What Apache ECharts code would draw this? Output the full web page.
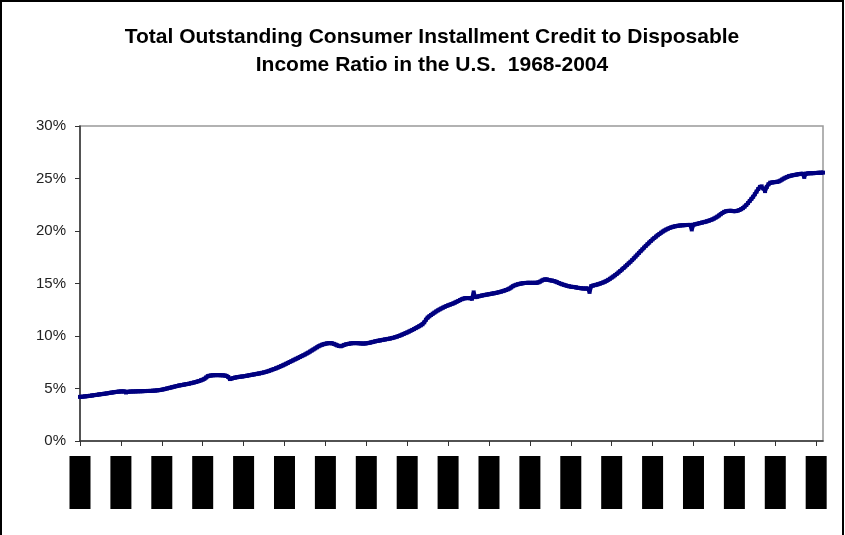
<!DOCTYPE html>
<html>
<head>
<meta charset="utf-8">
<script src="https://cdn.jsdelivr.net/npm/echarts@6/dist/echarts.min.js"></script>
<style>
html,body{margin:0;padding:0;background:#fff;}
#chart{width:845px;height:535px;}
</style>
</head>
<body>
<div id="chart"></div>
<script>
// Title
var titleText = 'Total Outstanding Consumer Installment Credit to Disposable\nIncome Ratio in the U.S.  1968-2004';

// Y axis tick values (percent)
var yTicks = [0, 5, 10, 15, 20, 25, 30];

// Monthly ratio values (%), by decade
var ratio1968_1977 = [
  4.20,4.21,4.23,4.25,4.27,4.29,4.31,4.33,4.36,4.38,4.40,4.43,
  4.45,4.47,4.49,4.52,4.54,4.57,4.60,4.62,4.65,4.67,4.69,4.71,
  4.72,4.73,4.72,4.62,4.68,4.70,4.71,4.72,4.72,4.73,4.73,4.74,
  4.74,4.75,4.75,4.76,4.77,4.77,4.78,4.79,4.80,4.82,4.84,4.86,
  4.89,4.92,4.96,5.00,5.04,5.08,5.12,5.16,5.20,5.24,5.28,5.31,
  5.34,5.37,5.40,5.43,5.46,5.50,5.54,5.58,5.62,5.67,5.72,5.78,
  5.84,5.92,6.05,6.18,6.22,6.24,6.26,6.27,6.28,6.28,6.27,6.26,
  6.25,6.24,6.20,6.10,5.90,5.95,6.00,6.04,6.07,6.10,6.12,6.14,
  6.16,6.19,6.22,6.25,6.28,6.31,6.34,6.37,6.40,6.43,6.46,6.50,
  6.54,6.58,6.63,6.68,6.74,6.80,6.86,6.92,6.99,7.06,7.13,7.20
];
var ratio1978_1987 = [
  7.28,7.36,7.44,7.52,7.60,7.68,7.76,7.84,7.92,8.00,8.08,8.16,
  8.24,8.33,8.42,8.52,8.62,8.72,8.82,8.92,9.02,9.10,9.17,9.22,
  9.26,9.30,9.32,9.33,9.30,9.25,9.18,9.10,9.05,9.02,9.08,9.15,
  9.20,9.24,9.27,9.30,9.32,9.33,9.33,9.32,9.30,9.29,9.28,9.28,
  9.30,9.33,9.36,9.40,9.44,9.48,9.52,9.55,9.58,9.61,9.64,9.67,
  9.70,9.73,9.76,9.80,9.84,9.89,9.94,10.00,10.06,10.13,10.20,10.27,
  10.34,10.42,10.50,10.58,10.66,10.75,10.84,10.93,11.02,11.12,11.30,11.55,
  11.75,11.88,12.00,12.12,12.23,12.34,12.44,12.53,12.62,12.70,12.78,12.86,
  12.92,12.98,13.04,13.10,13.18,13.26,13.34,13.42,13.50,13.56,13.60,13.62,
  13.62,13.60,13.55,14.15,13.70,13.74,13.78,13.82,13.86,13.89,13.92,13.95
];
var ratio1988_1997 = [
  13.98,14.01,14.04,14.07,14.10,14.14,14.18,14.22,14.27,14.32,14.38,14.44,
  14.52,14.62,14.74,14.82,14.88,14.93,14.97,15.00,15.03,15.05,15.06,15.06,
  15.06,15.06,15.06,15.06,15.07,15.10,15.18,15.28,15.36,15.40,15.38,15.34,
  15.30,15.28,15.24,15.18,15.12,15.05,14.98,14.92,14.87,14.82,14.77,14.73,
  14.70,14.68,14.66,14.63,14.60,14.57,14.55,14.53,14.52,14.52,14.52,14.20,
  14.75,14.80,14.84,14.88,14.93,14.98,15.04,15.10,15.17,15.25,15.35,15.45,
  15.56,15.67,15.79,15.92,16.05,16.19,16.33,16.47,16.62,16.77,16.92,17.07,
  17.23,17.40,17.57,17.74,17.91,18.08,18.25,18.42,18.58,18.74,18.90,19.05,
  19.20,19.34,19.47,19.60,19.72,19.84,19.95,20.05,20.14,20.22,20.29,20.35,
  20.40,20.44,20.47,20.50,20.52,20.54,20.55,20.56,20.57,20.58,20.58,20.15
];
var ratio1998_2004 = [
  20.60,20.64,20.68,20.72,20.76,20.80,20.84,20.88,20.93,20.98,21.04,21.10,
  21.18,21.27,21.37,21.48,21.60,21.72,21.82,21.88,21.91,21.92,21.92,21.90,
  21.89,21.90,21.94,22.00,22.08,22.18,22.32,22.48,22.66,22.86,23.06,23.26,
  23.50,23.75,24.00,24.20,24.25,24.05,23.80,24.20,24.45,24.60,24.62,24.64,
  24.66,24.68,24.72,24.80,24.90,25.00,25.08,25.15,25.22,25.26,25.30,25.33,
  25.36,25.39,25.42,25.44,25.45,25.15,25.46,25.48,25.50,25.50,25.51,25.52,
  25.53,25.54,25.55,25.55,25.56
];

var ratio = ratio1968_1977.concat(ratio1978_1987, ratio1988_1997, ratio1998_2004);

// Categories: one per month starting January 1968
var startYear = 1968;
var months = [];
for (var i = 0; i < ratio.length; i++) {
  var y = startYear + Math.floor(i / 12);
  var m = (i % 12) + 1;
  months.push(y + '-' + (m < 10 ? '0' + m : m));
}

var chart = echarts.init(document.getElementById('chart'), null, {renderer: 'canvas'});
chart.setOption({
  animation: false,
  backgroundColor: '#fff',
  title: {
    text: titleText,
    left: 427,
    top: 18,
    textAlign: 'center',
    textStyle: {
      fontFamily: 'Liberation Sans, Arial, sans-serif',
      fontWeight: 'bold',
      fontSize: 21,
      color: '#000',
      lineHeight: 28
    }
  },
  graphic: [{
    type: 'rect',
    shape: {x: 1, y: 1, width: 842, height: 545},
    style: {fill: null, stroke: '#000', lineWidth: 2},
    silent: true,
    z: 100
  }],
  grid: {
    left: 80, right: 22, top: 126, bottom: 94,
    show: true, borderColor: '#999', borderWidth: 1.5, backgroundColor: '#fff'
  },
  xAxis: {
    type: 'category',
    data: months,
    boundaryGap: false,
    axisLine: {lineStyle: {color: '#333', width: 1.5}},
    axisTick: {show: true, interval: 23, length: 5, lineStyle: {color: '#333'}},
    axisLabel: {
      interval: 23,
      margin: 15,
      formatter: function (v) { return v.slice(0, 4); },
      color: '#000',
      fontSize: 8,
      backgroundColor: '#000',
      width: 21,
      height: 53,
      padding: 0,
      align: 'center',
      verticalAlign: 'top'
    },
    splitLine: {show: false}
  },
  yAxis: {
    type: 'value',
    min: yTicks[0],
    max: yTicks[yTicks.length - 1],
    interval: 5,
    axisLine: {show: true, lineStyle: {color: '#333', width: 1.5}},
    axisTick: {show: true, length: 5, lineStyle: {color: '#333'}},
    axisLabel: {
      formatter: '{value}%',
      margin: 14,
      fontFamily: 'Liberation Sans, Arial, sans-serif',
      fontSize: 15,
      color: '#222'
    },
    splitLine: {show: false}
  },
  series: [{
    type: 'line',
    data: ratio,
    showSymbol: true,
    showAllSymbol: true,
    symbol: 'rect',
    symbolSize: 4,
    itemStyle: {color: '#000080'},
    lineStyle: {color: '#000080', width: 4},
    z: 3
  }]
});
</script>
</body>
</html>
